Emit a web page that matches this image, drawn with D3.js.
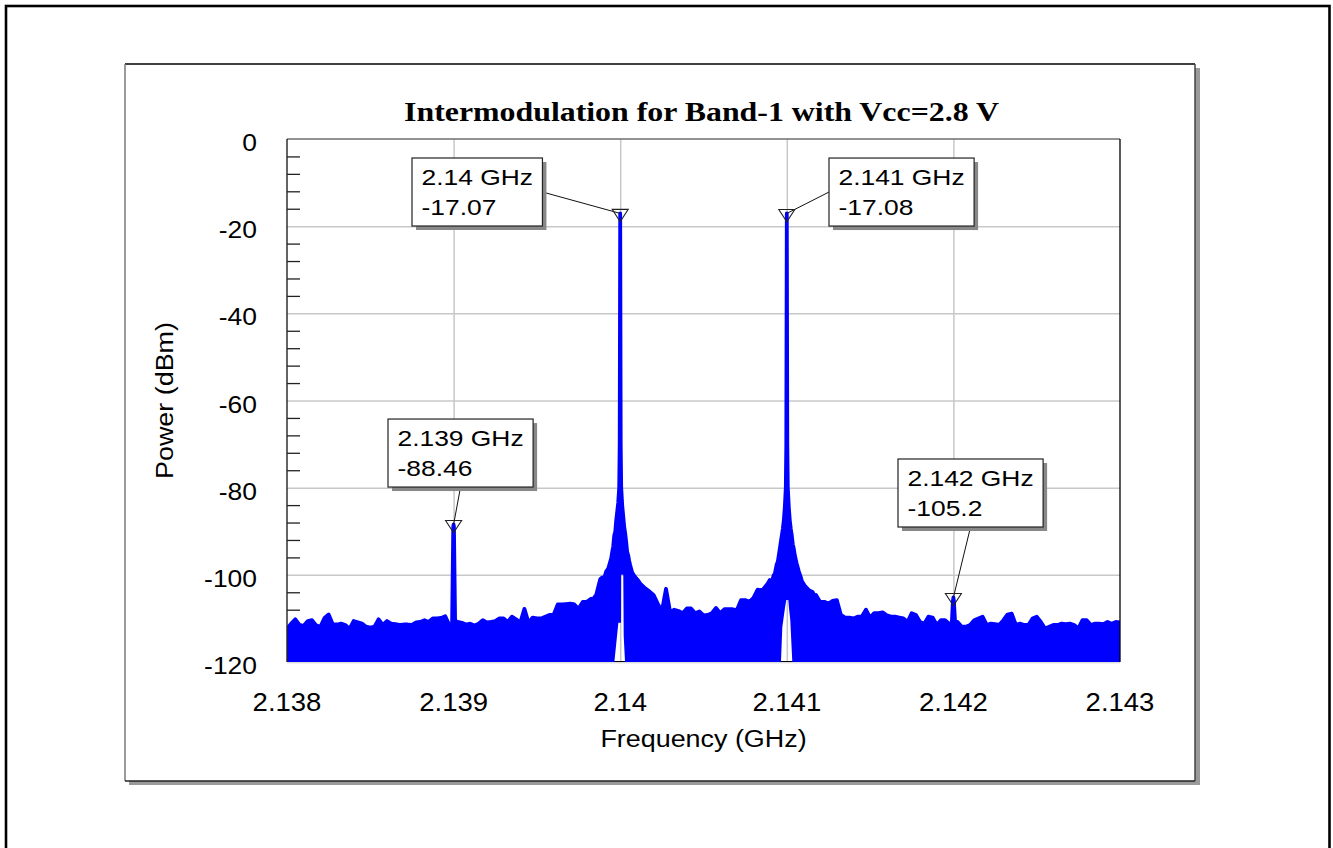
<!DOCTYPE html>
<html><head><meta charset="utf-8">
<script src="https://cdn.jsdelivr.net/npm/d3@7"></script>
<style>html,body{margin:0;padding:0;background:#fff;} svg{display:block;}</style>
</head><body>
<svg id="chart" width="1333" height="848"></svg>
<script>
// ---------------- DATA ----------------
const chartTitle = "Intermodulation for Band-1 with Vcc=2.8 V";
const xAxisTitle = "Frequency (GHz)";
const yAxisTitle = "Power (dBm)";
const xTickValues = [2.138, 2.139, 2.140, 2.141, 2.142, 2.143];
const xTickLabels = ["2.138", "2.139", "2.14", "2.141", "2.142", "2.143"];
const yTickValues = [0, -20, -40, -60, -80, -100, -120];
const yTickLabels = ["0", "-20", "-40", "-60", "-80", "-100", "-120"];
const yMinorStepDb = 4;

// spectrum trace: upper envelope sampled every 25 kHz from 2.138 GHz
const noiseStartGHz = 2.138;
const noiseStepGHz = 0.000025;
const noiseFloorDbm = [
  -112.4, -111.2, -110.2, -111.5, -111.7, -110.6, -110.4, -111.6, -111.9, -109.9,
  -109.1, -111.4, -111.4, -111.2, -111.5, -112.4, -110.6, -110.9, -111.2, -111.9,
  -112.1, -111.9, -110.2, -111.5, -110.6, -111.2, -111.3, -111.5, -111.4, -111.4,
  -111.5, -110.9, -110.8, -110.4, -110.8, -110.0, -110.0, -109.9, -109.5, -111.6,
  -88.46, -110.8, -111.0, -111.4, -111.2, -111.6, -111.2, -110.4, -110.9, -110.8,
  -110.6, -110.0, -110.0, -110.8, -109.6, -110.2, -111.0, -107.8, -111.0, -109.8,
  -110.0, -110.0, -109.6, -109.2, -109.2, -106.8, -106.8, -106.7, -106.6, -106.8,
  -107.8, -106.2, -106.2, -105.5, -104.6, -101.5, -100.9, -99.5, -94.0, -86.0,
  -17.07, -86.0, -93.0, -99.0, -100.5, -101.5, -103.0, -103.8, -104.6, -106.6,
  -108.4, -103.2, -108.6, -108.0, -108.3, -108.8, -107.7, -107.7, -108.8, -108.4,
  -109.3, -109.2, -108.8, -107.6, -108.8, -107.9, -107.9, -107.9, -108.1, -105.8,
  -105.8, -106.2, -105.3, -103.4, -103.4, -102.2, -100.8, -98.8, -95.0, -88.0,
  -17.08, -88.0, -95.0, -99.0, -101.5, -102.8, -103.6, -104.6, -106.2, -106.2,
  -106.6, -106.0, -105.8, -109.2, -109.8, -109.8, -110.0, -109.6, -109.6, -108.0,
  -109.8, -108.8, -108.8, -108.6, -109.3, -109.6, -109.6, -109.8, -110.0, -110.8,
  -108.8, -109.2, -110.8, -111.2, -109.6, -109.8, -111.5, -110.4, -110.4, -111.2,
  -105.2, -110.8, -111.9, -111.9, -111.5, -110.4, -110.0, -109.6, -111.5, -111.2,
  -111.3, -111.5, -110.4, -109.1, -108.9, -111.5, -111.2, -111.5, -111.5, -110.0,
  -109.6, -110.8, -112.3, -111.9, -111.5, -111.5, -111.2, -111.3, -111.2, -111.5,
  -112.3, -110.4, -110.4, -111.5, -111.2, -111.2, -111.3, -110.8, -111.2, -110.8, -110.9
];

// finer detail around each tone (offset in kHz from tone)
const toneFreqsGHz = [2.139, 2.140, 2.141, 2.142];
const toneOffsetsKHz = [
  [-9, -2, 0, 2, 9],
  [-168, -144, -120, -108, -96, -84, -72, -60, -54, -48, -42, -36, -30, -24, -18, -12, -6, -3, 0,
   3, 6, 12, 18, 24, 30, 36, 42, 48, 54, 60, 72, 84, 96, 108, 120, 144, 168],
  [-168, -144, -114, -102, -90, -78, -72, -60, -54, -48, -42, -36, -30, -24, -18, -12, -6, -3, 0,
   3, 6, 12, 18, 24, 30, 36, 42, 48, 54, 60, 72, 84, 90, 108, 132, 156, 174],
  [-10, -3, 0, 3, 10]
];
const toneLevelsDbm = [
  [-111.3, -89.0, -88.46, -89.0, -110.6],
  [-105.8, -104.6, -101.0, -100.6, -100.8, -99.2, -98.6, -97.0, -96.2, -94.8, -93.5, -91.0, -90.2, -87.5, -85.5, -83.5, -80.0, -70.0, -17.07,
   -70.0, -80.0, -84.0, -86.5, -89.0, -90.5, -92.5, -94.8, -95.5, -96.8, -97.8, -99.5, -100.2, -100.8, -101.3, -102.0, -102.9, -103.6],
  [-103.5, -103.4, -102.0, -101.2, -101.6, -100.0, -99.8, -97.5, -97.0, -95.5, -94.0, -92.5, -91.0, -89.5, -87.5, -84.5, -80.0, -70.0, -17.08,
   -70.0, -80.0, -84.5, -87.5, -89.5, -91.0, -93.0, -94.0, -95.5, -96.5, -97.5, -99.2, -100.5, -101.4, -102.5, -103.5, -104.0, -105.5],
  [-111.5, -106.0, -105.2, -106.0, -110.8]
];

// lower envelope of the trace (where it does not reach the -120 dBm floor)
const floorDbm = -120;
const gapCentersGHz = [2.140, 2.141];
const gapOffsetsKHz = [
  [-35, -11, 5, 5.5, 18.5, 21, 29],
  [-35, -27, -11, -3, 9, 13, 21, 33]
];
const gapLevelsDbm = [
  [-120, -111, -111, -100, -100, -114, -120],
  [-120, -112, -107.6, -105.8, -105.8, -107.6, -110.4, -120]
];

// markers
const markerFreqGHz = [2.139, 2.140, 2.141, 2.142];
const markerDbm = [-88.46, -17.07, -17.08, -105.2];
const markerLine1 = ["2.139 GHz", "2.14 GHz", "2.141 GHz", "2.142 GHz"];
const markerLine2 = ["-88.46", "-17.07", "-17.08", "-105.2"];

// ---------------- DRAW ----------------
const svg = d3.select("#chart");
const plot = {l: 287, t: 139, r: 1120, b: 662};
const x = d3.scaleLinear().domain([2.138, 2.143]).range([plot.l, plot.r]);
const y = d3.scaleLinear().domain([-120, 0]).range([plot.b, plot.t]);
const SANS = "'Liberation Sans', Arial, Helvetica, sans-serif";
const SERIF = "'Liberation Serif', 'Times New Roman', serif";

function stretchedText(parent, tx, ty, str, opts) {
  const g = parent.append("g")
    .attr("transform", `translate(${tx},${ty}) ${opts.rotate ? "rotate(-90)" : ""} scale(${opts.sx},1)`);
  const t = g.append("text")
    .attr("x", 0).attr("y", 0)
    .attr("text-anchor", opts.anchor || "start")
    .attr("font-family", opts.family || SANS)
    .attr("font-size", opts.size)
    .attr("font-weight", opts.weight || "normal")
    .attr("fill", "#000")
    .text(str);
  return t;
}

// outer border
svg.append("rect").attr("x", 6).attr("y", 6).attr("width", 1323.5).attr("height", 900)
  .attr("fill", "none").attr("stroke", "#000").attr("stroke-width", 2.6);

// panel with shadow
svg.append("rect").attr("x", 129).attr("y", 68).attr("width", 1071).attr("height", 717).attr("fill", "#9a9a9a");
svg.append("rect").attr("x", 125).attr("y", 64).attr("width", 1070).attr("height", 717).attr("fill", "#fff");
const pb = svg.append("g").attr("stroke-width", 1.5);
pb.append("line").attr("x1", 125).attr("x2", 1195).attr("y1", 64).attr("y2", 64).attr("stroke", "#000");
pb.append("line").attr("x1", 125).attr("x2", 125).attr("y1", 64).attr("y2", 781).attr("stroke", "#7a7a7a");
pb.append("line").attr("x1", 1195).attr("x2", 1195).attr("y1", 64).attr("y2", 781).attr("stroke", "#444");
pb.append("line").attr("x1", 125).attr("x2", 1195).attr("y1", 781).attr("y2", 781).attr("stroke", "#222");

// title
stretchedText(svg, 701.5, 121, chartTitle, {sx: 1.18, size: 27, weight: "bold", family: SERIF, anchor: "middle"});

// gridlines via axes
const gridY = svg.append("g").attr("transform", `translate(${plot.l},0)`)
  .call(d3.axisLeft(y).tickValues(yTickValues.filter(v => v > -120 && v < 0)).tickSize(-(plot.r - plot.l)).tickFormat(""));
gridY.select(".domain").remove();
gridY.selectAll(".tick line").attr("stroke", "#c8c8c8").attr("stroke-width", 1.5);
const gridX = svg.append("g").attr("transform", `translate(0,${plot.b})`)
  .call(d3.axisBottom(x).tickValues(xTickValues.slice(1, -1)).tickSize(-(plot.b - plot.t)).tickFormat(""));
gridX.select(".domain").remove();
gridX.selectAll(".tick line").attr("stroke", "#c8c8c8").attr("stroke-width", 1.5);

// minor ticks on the y axis (inside)
const minorVals = d3.range(-120 + yMinorStepDb, 0, yMinorStepDb).filter(v => v % 20 !== 0);
const minor = svg.append("g").attr("transform", `translate(${plot.l},0)`)
  .call(d3.axisRight(y).tickValues(minorVals).tickSize(13).tickFormat(""));
minor.select(".domain").remove();
minor.selectAll(".tick line").attr("stroke", "#222").attr("stroke-width", 1.3);

// bottom axis line (under the trace)
svg.append("line").attr("x1", plot.l).attr("x2", plot.r).attr("y1", plot.b - 0.5).attr("y2", plot.b - 0.5)
  .attr("stroke", "#000").attr("stroke-width", 1.2);
svg.append("line").attr("x1", plot.l).attr("x2", plot.r).attr("y1", plot.b + 0.8).attr("y2", plot.b + 0.8)
  .attr("stroke", "#d0d0d0").attr("stroke-width", 1);

// build trace points
let pts = noiseFloorDbm.map((v, i) => ({f: noiseStartGHz + i * noiseStepGHz, v}));
toneFreqsGHz.forEach((tf, k) => {
  const offs = toneOffsetsKHz[k];
  const lo = tf + offs[0] * 1e-6 - 1e-9, hi = tf + offs[offs.length - 1] * 1e-6 + 1e-9;
  pts = pts.filter(p => p.f < lo || p.f > hi);
  offs.forEach((o, j) => pts.push({f: tf + o * 1e-6, v: toneLevelsDbm[k][j]}));
});
pts.sort((a, b) => a.f - b.f);

let lowPts = [{f: 2.138, v: floorDbm}, {f: 2.143, v: floorDbm}];
gapCentersGHz.forEach((gf, k) => {
  gapOffsetsKHz[k].forEach((o, j) => lowPts.push({f: gf + o * 1e-6, v: gapLevelsDbm[k][j]}));
});
lowPts.sort((a, b) => a.f - b.f);

svg.append("clipPath").attr("id", "plotclip").append("rect")
  .attr("x", plot.l).attr("y", plot.t).attr("width", plot.r - plot.l).attr("height", plot.b - plot.t);

const line = d3.line();
const upXY = pts.map(p => [x(p.f), y(p.v)]);
const loXY = lowPts.map(p => [x(p.f), y(p.v)]).reverse();
const areaD = line(upXY) + line(loXY).replace(/^M/, "L") + "Z";
const trace = svg.append("g").attr("clip-path", "url(#plotclip)");
trace.append("path").attr("d", areaD).attr("fill", "#0000ff").attr("stroke", "none");
trace.append("path").attr("d", line(upXY)).attr("fill", "none").attr("stroke", "#0000ff")
  .attr("stroke-width", 3.8).attr("stroke-linejoin", "round").attr("stroke-linecap", "round");

// plot frame (on top)
const fr = svg.append("g");
fr.append("line").attr("x1", plot.l).attr("x2", plot.r).attr("y1", plot.t).attr("y2", plot.t).attr("stroke", "#6e6e6e").attr("stroke-width", 1.6);
fr.append("line").attr("x1", plot.l).attr("x2", plot.l).attr("y1", plot.t).attr("y2", plot.b).attr("stroke", "#222").attr("stroke-width", 1.4);
fr.append("line").attr("x1", plot.r).attr("x2", plot.r).attr("y1", plot.t).attr("y2", plot.b).attr("stroke", "#000").attr("stroke-width", 1.3);

// tick labels
yTickValues.forEach((v, i) => stretchedText(svg, 257, y(v) + 12, yTickLabels[i], {sx: 1.15, size: 23, anchor: "end"}));
xTickValues.forEach((v, i) => stretchedText(svg, x(v), 711, xTickLabels[i], {sx: 1.1, size: 25, anchor: "middle"}));

// axis titles
stretchedText(svg, (plot.l + plot.r) / 2, 747, xAxisTitle, {sx: 1.17, size: 23, anchor: "middle"});
stretchedText(svg, 173, (plot.t + plot.b) / 2, yAxisTitle, {sx: 1.17, size: 23, anchor: "middle", rotate: true});

// markers
const boxLayout = [
  {dx: -65.6, dy: -105.5, side: "bottom"},
  {dx: -208.2, dy: -55.4, side: "right"},
  {dx: 42.2, dy: -55.4, side: "left"},
  {dx: -55.4, dy: -138.5, side: "bottom"}
];
const BOX_H = 68, MSX = 1.2;
markerFreqGHz.forEach((f, i) => {
  const mx = x(f), my = y(markerDbm[i]);
  const L = boxLayout[i];
  const bx = mx + L.dx, by = my + L.dy;
  const g = svg.append("g");
  const lineG = g.append("g");
  const shadow = g.append("rect").attr("fill", "#888");
  const box = g.append("rect").attr("fill", "#fff").attr("stroke", "#222").attr("stroke-width", 1.2);
  const t1 = stretchedText(g, bx + 9.5, by + 27, markerLine1[i], {sx: MSX, size: 22});
  const t2 = stretchedText(g, bx + 9.5, by + 57, markerLine2[i], {sx: MSX, size: 22});
  const w = Math.max(t1.node().getComputedTextLength(), t2.node().getComputedTextLength()) * MSX + 19;
  shadow.attr("x", bx + 4).attr("y", by + 4).attr("width", w).attr("height", BOX_H);
  box.attr("x", bx).attr("y", by).attr("width", w).attr("height", BOX_H);
  let sx0, sy0;
  if (L.side === "bottom") { sx0 = bx + w / 2; sy0 = by + BOX_H; }
  else if (L.side === "right") { sx0 = bx + w; sy0 = by + BOX_H / 2; }
  else { sx0 = bx; sy0 = by + BOX_H / 2; }
  lineG.append("line").attr("x1", sx0).attr("y1", sy0).attr("x2", mx).attr("y2", my)
    .attr("stroke", "#111").attr("stroke-width", 1);
  svg.append("path")
    .attr("d", d3.line()([[mx - 8, my - 4], [mx + 8, my - 4], [mx, my + 8.3]]) + "Z")
    .attr("fill", "none").attr("stroke", "#222").attr("stroke-width", 1.1);
});
</script>
</body></html>
